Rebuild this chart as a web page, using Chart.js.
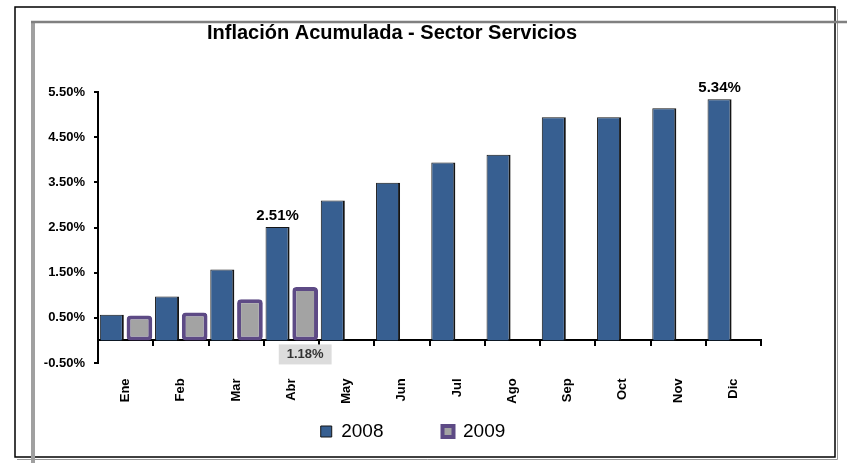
<!DOCTYPE html>
<html lang="es">
<head>
<meta charset="utf-8">
<title>Inflación Acumulada - Sector Servicios</title>
<script src="https://cdn.jsdelivr.net/npm/chart.js@4.4.1/dist/chart.umd.min.js"></script>
<style>
  html, body { margin: 0; padding: 0; background: #fff; }
  #wrap { position: relative; width: 847px; height: 463px; }
</style>
</head>
<body>
<div id="wrap"><canvas id="inflacionChart"></canvas></div>
<script>
const meses = ['Ene', 'Feb', 'Mar', 'Abr', 'May', 'Jun', 'Jul', 'Ago', 'Sep', 'Oct', 'Nov', 'Dic'];
const serie2008 = [0.57, 0.97, 1.57, 2.51, 3.10, 3.49, 3.94, 4.11, 4.94, 4.94, 5.14, 5.34];
const serie2009 = [0.55, 0.62, 0.91, 1.18];
const etiquetas2008 = [null, null, null, '2.51%', null, null, null, null, null, null, null, '5.34%'];
const etiquetas2009 = [null, null, null, '1.18%'];
const ticksY = [-0.5, 0.5, 1.5, 2.5, 3.5, 4.5, 5.5];

const fuente = '"Liberation Sans", Arial, sans-serif';

// marco de la hoja (borde negro + lineas grises)
const marco = {
    id: 'marco',
    beforeDraw(chart) {
        const c = chart.ctx;
        c.save();
        c.fillStyle = '#fff';
        c.fillRect(0, 0, chart.width, chart.height);
        c.strokeStyle = '#000';
        c.lineWidth = 1.5;
        c.strokeRect(15, 7, 820, 450);
        c.strokeStyle = '#9a9a9a';
        c.lineWidth = 1;
        c.beginPath();
        c.moveTo(837.5, 9); c.lineTo(837.5, 459.5); c.lineTo(17, 459.5);
        c.stroke();
        c.strokeStyle = '#a0a0a0';
        c.lineWidth = 4;
        c.beginPath(); c.moveTo(33, 463); c.lineTo(33, 21); c.stroke();
        c.strokeStyle = '#808080';
        c.lineWidth = 2.5;
        c.beginPath(); c.moveTo(31, 22); c.lineTo(847, 22); c.stroke();
        c.restore();
    }
};

// etiquetas de valor (2.51%, 5.34%, 1.18%)
const etiquetas = {
    id: 'etiquetas',
    afterDatasetsDraw(chart) {
        const c = chart.ctx;
        c.save();
        c.textAlign = 'center';
        c.font = 'bold 15px ' + fuente;
        chart.getDatasetMeta(0).data.forEach((bar, i) => {
            if (!etiquetas2008[i]) return;
            c.fillStyle = '#000';
            c.textBaseline = 'alphabetic';
            c.fillText(etiquetas2008[i], bar.x, bar.y - 7);
        });
        c.font = 'bold 13px ' + fuente;
        chart.getDatasetMeta(1).data.forEach((bar, i) => {
            if (!etiquetas2009[i]) return;
            const w = c.measureText(etiquetas2009[i]).width + 16;
            c.fillStyle = '#dcdcdc';
            c.fillRect(bar.x - w / 2, bar.base + 4, w, 20);
            c.fillStyle = '#333';
            c.textBaseline = 'middle';
            c.fillText(etiquetas2009[i], bar.x, bar.base + 14);
        });
        c.restore();
    }
};

// la leyenda del original no esta centrada con el titulo
const moverLeyenda = {
    id: 'moverLeyenda',
    afterLayout(chart) {
        chart.legend.left += 21;
        chart.legend.right += 21;
    }
};

new Chart(document.getElementById('inflacionChart'), {
    type: 'bar',
    data: {
        labels: meses,
        datasets: [
            {
                label: '2008',
                data: serie2008,
                backgroundColor: '#375f91',
                borderColor: '#151515',
                borderWidth: { top: 1, right: 2, left: 1, bottom: 0 },
                barPercentage: 0.87
            },
            {
                label: '2009',
                data: serie2009,
                backgroundColor: '#a3a3a3',
                borderColor: '#5d4a85',
                borderWidth: 4,
                borderRadius: 4,
                borderSkipped: false,
                barPercentage: 0.93
            }
        ]
    },
    options: {
        responsive: true,
        maintainAspectRatio: false,
        animation: false,
        categoryPercentage: 1.0,
        layout: { padding: { left: 23, right: 86, top: 0, bottom: 12 } },
        plugins: {
            title: {
                display: true,
                text: 'Inflación Acumulada - Sector Servicios',
                color: '#000',
                font: { family: fuente, size: 20, weight: 'bold' },
                padding: { top: 21, bottom: 47 }
            },
            legend: {
                position: 'bottom',
                labels: {
                    color: '#000',
                    font: { family: fuente, size: 19 },
                    boxWidth: 11,
                    boxHeight: 11,
                    padding: 59
                }
            },
            tooltip: { enabled: false }
        },
        scales: {
            x: {
                position: { y: 0 },
                grid: { drawOnChartArea: false, color: '#000', lineWidth: 2, tickLength: 5 },
                border: { color: '#000', width: 2 },
                ticks: {
                    color: '#000',
                    font: { family: fuente, size: 13, weight: 'bold' },
                    minRotation: 90,
                    maxRotation: 90,
                    autoSkip: false,
                    padding: 33
                }
            },
            y: {
                min: -0.5,
                max: 5.5,
                afterBuildTicks: axis => { axis.ticks = ticksY.map(v => ({ value: v })); },
                afterFit: axis => { axis.width = 75; },
                grid: { drawOnChartArea: false, color: '#000', lineWidth: 2, tickLength: 4 },
                border: { color: '#000', width: 2 },
                ticks: {
                    color: '#000',
                    font: { family: fuente, size: 13, weight: 'bold' },
                    padding: 9,
                    callback: v => v.toFixed(2) + '%'
                }
            }
        }
    },
    plugins: [marco, etiquetas, moverLeyenda]
});
</script>
</body>
</html>
